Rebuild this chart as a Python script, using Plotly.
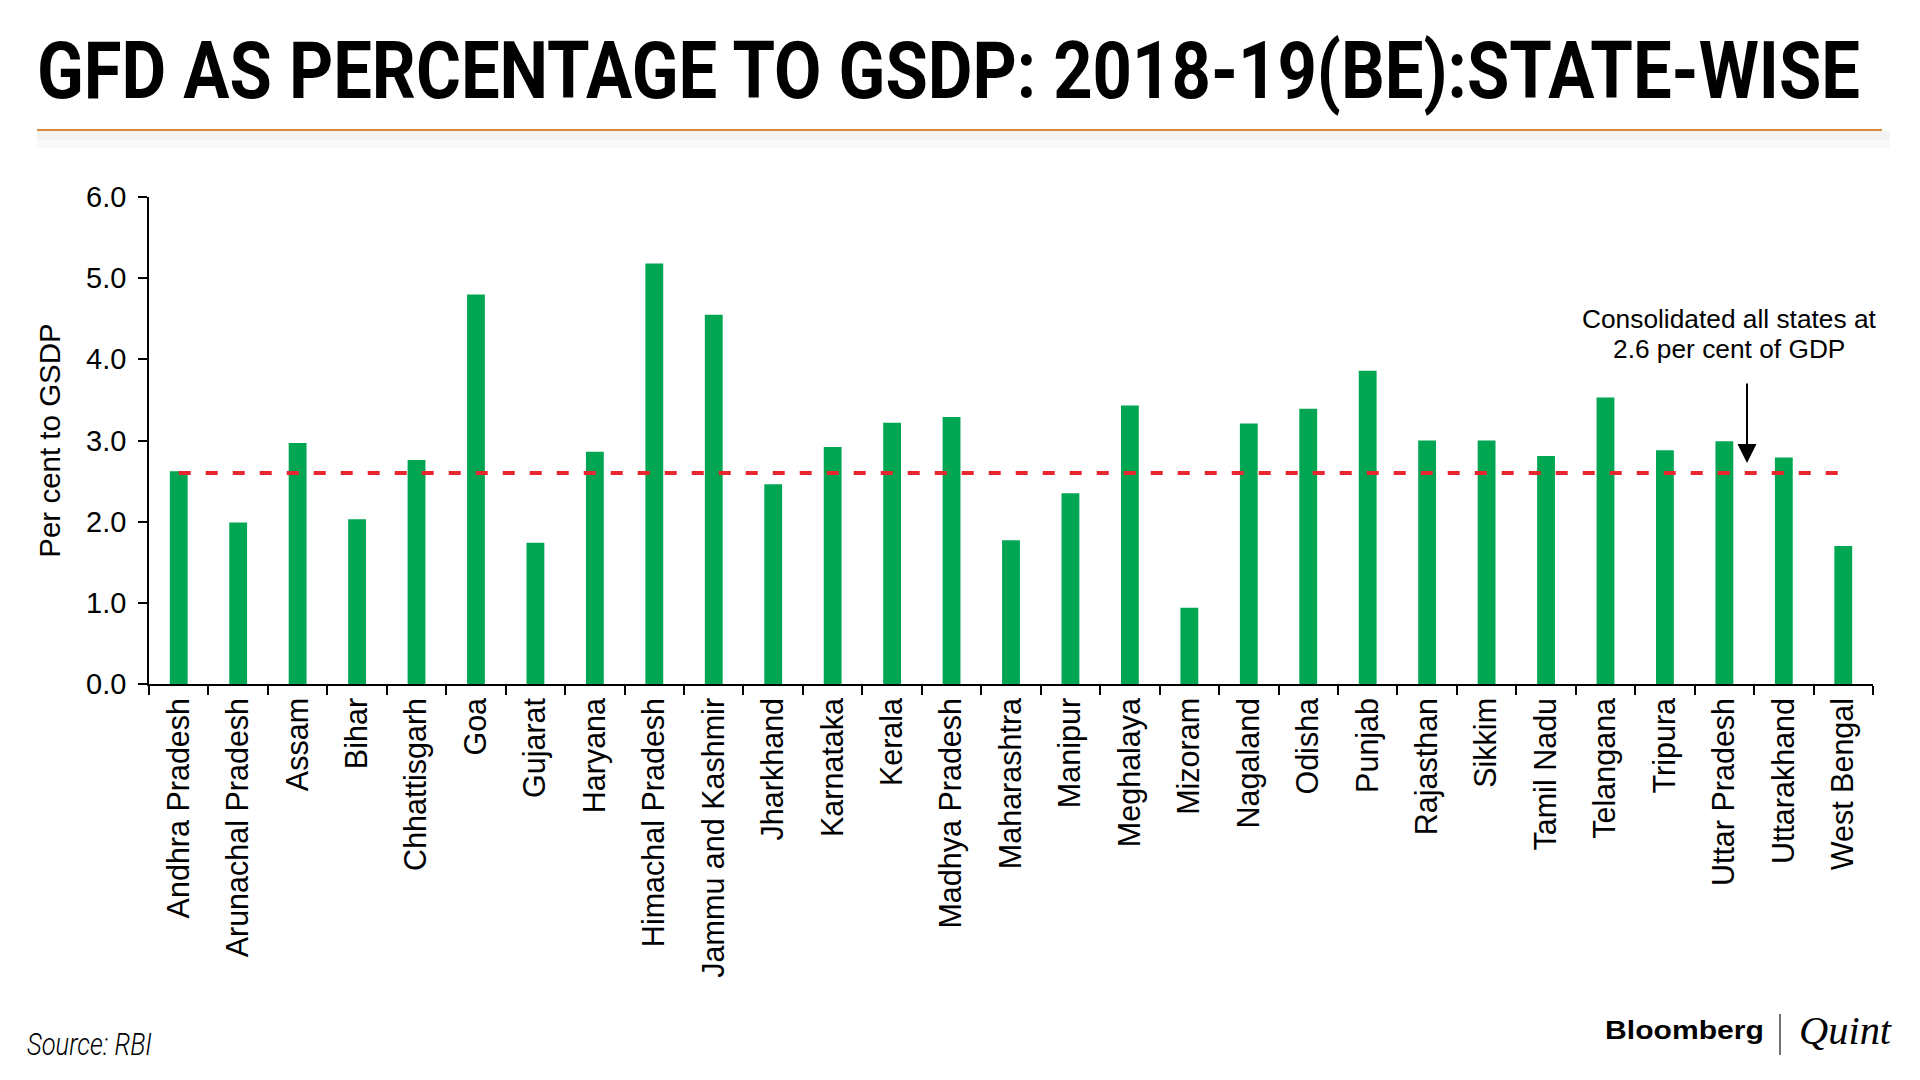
import plotly.graph_objects as go

states = ["Andhra Pradesh", "Arunachal Pradesh", "Assam", "Bihar", "Chhattisgarh", "Goa",
          "Gujarat", "Haryana", "Himachal Pradesh", "Jammu and Kashmir", "Jharkhand",
          "Karnataka", "Kerala", "Madhya Pradesh", "Maharashtra", "Manipur", "Meghalaya",
          "Mizoram", "Nagaland", "Odisha", "Punjab", "Rajasthan", "Sikkim", "Tamil Nadu",
          "Telangana", "Tripura", "Uttar Pradesh", "Uttarakhand", "West Bengal"]
gfd = [2.62, 1.99, 2.97, 2.03, 2.76, 4.80, 1.74, 2.86, 5.18, 4.55, 2.46, 2.92, 3.22, 3.29,
       1.77, 2.35, 3.43, 0.94, 3.21, 3.39, 3.86, 3.00, 3.00, 2.81, 3.53, 2.88, 2.99, 2.79, 1.70]
consolidated = 2.6
y_ticks = [0, 1, 2, 3, 4, 5, 6]

TITLE = "GFD AS PERCENTAGE TO GSDP: 2018-19(BE):STATE-WISE"
NOTE_LINES = ["Consolidated all states at", "2.6 per cent of GDP"]
SOURCE = "Source: RBI"

W, H = 1920, 1080
L, R, T, B = 149, 1873, 197, 684


def px(x):
    return (x - L) / (R - L)


def py(y):
    return (B - y) / (B - T)


fig = go.Figure()
fig.add_trace(go.Bar(x=states, y=gfd, marker=dict(color="#00A651", line=dict(width=0)),
                     hoverinfo="x+y"))
fig.add_trace(go.Scatter(x=states, y=[consolidated] * len(states), mode="lines",
                         line=dict(color="#E8262F", width=4, dash="12px,15px"),
                         hoverinfo="y"))

base_font = "Liberation Sans, Arial, Helvetica, sans-serif"

fig.update_layout(
    width=W, height=H,
    margin=dict(l=L, r=W - R, t=T, b=H - B, pad=0),
    paper_bgcolor="white", plot_bgcolor="white",
    showlegend=False,
    bargap=0.7,
    font=dict(family=base_font, size=29, color="black"),
    title=dict(text=TITLE,
               xref="container", yref="container", x=37 / W, xanchor="left",
               y=1 - 70 / H, yanchor="middle",
               font=dict(family="Roboto, Liberation Sans, sans-serif",
                         size=80, weight="bold", color="black")),
    xaxis=dict(type="category", showline=True, linecolor="black", linewidth=1.5,
               ticks="outside", tickson="boundaries", ticklen=9, tickwidth=1.5,
               tickcolor="black", tickangle=-90, showgrid=False, zeroline=False,
               tickfont=dict(size=30.5), automargin=False),
    yaxis=dict(range=[0, 6], tickvals=y_ticks, tickformat=".1f", showline=True,
               linecolor="black", linewidth=1.5, ticks="outside", ticklen=9,
               tickwidth=1.5, tickcolor="black", showgrid=False, zeroline=False,
               tickfont=dict(size=29), automargin=False, ticklabelstandoff=6,
               title=dict(text="Per cent to GSDP", font=dict(size=29.5), standoff=17)),
)

# orange rule under the title and faint shadow
fig.add_shape(type="rect", xref="paper", yref="paper", x0=px(37), x1=px(1890),
              y0=py(140), y1=py(131), fillcolor="#F3F3F3", line=dict(width=0), layer="below")
fig.add_shape(type="rect", xref="paper", yref="paper", x0=px(37), x1=px(1890),
              y0=py(148), y1=py(140), fillcolor="#F9F9F9", line=dict(width=0), layer="below")
fig.add_shape(type="line", xref="paper", yref="paper", x0=px(37), x1=px(1882),
              y0=py(130), y1=py(130), line=dict(color="#D98B3A", width=1.8))

# annotation text (two lines, tight leading) and arrow
for line_text, yc in zip(NOTE_LINES, [319, 349]):
    fig.add_annotation(xref="paper", yref="paper", x=px(1729), y=py(yc),
                       text=line_text, showarrow=False, xanchor="center", yanchor="middle",
                       font=dict(size=26.3, color="black"))
fig.add_annotation(xref="paper", yref="paper", x=px(1747), y=py(463), text="",
                   showarrow=True, ax=0, ay=-81, arrowhead=2, arrowsize=1.9,
                   arrowwidth=2, arrowcolor="black", standoff=0)

# source and logo
fig.add_annotation(xref="paper", yref="paper", x=px(25), y=py(1044), text=SOURCE,
                   showarrow=False, xanchor="left", yanchor="middle",
                   font=dict(family="Roboto, sans-serif", size=31, style="italic",
                             weight=300, color="black"))
fig.add_annotation(xref="paper", yref="paper", x=px(1603), y=py(1030), text="Bloomberg",
                   showarrow=False, xanchor="left", yanchor="middle",
                   font=dict(family="Liberation Sans, Arial, sans-serif", size=25,
                             weight="bold", color="black"))
fig.add_shape(type="line", xref="paper", yref="paper", x0=px(1780), x1=px(1780),
              y0=py(1014), y1=py(1055), line=dict(color="#444444", width=1.5))
fig.add_annotation(xref="paper", yref="paper", x=px(1797), y=py(1030), text="Quint",
                   showarrow=False, xanchor="left", yanchor="middle",
                   font=dict(family="Liberation Serif, serif", size=40, style="italic",
                             color="black"))

# page without body margin; condensed / expanded lettering of real text (left edge fixed)
post_js = """
document.body.style.margin = '0';
document.body.style.overflow = 'hidden';
function fitWidth(el, target) {
  if (!el) return;
  var bb = el.getBBox();
  if (!bb || !bb.width) return;
  var s = target / bb.width;
  var prev = el.getAttribute('transform') || '';
  el.setAttribute('transform', prev + ' translate(' + (bb.x * (1 - s)) + ',0) scale(' + s + ',1)');
}
var root = document.getElementById('{plot_id}');
fitWidth(root.querySelector('text.gtitle'), 1823);
root.querySelectorAll('text.annotation-text').forEach(function(t) {
  var c = t.textContent;
  if (c === 'Source: RBI') fitWidth(t, 125);
  if (c === 'Bloomberg') fitWidth(t, 159);
  if (c === 'Quint') fitWidth(t, 93);
});
"""

fig.write_html("out.html", post_script=post_js, config={"displayModeBar": False})
